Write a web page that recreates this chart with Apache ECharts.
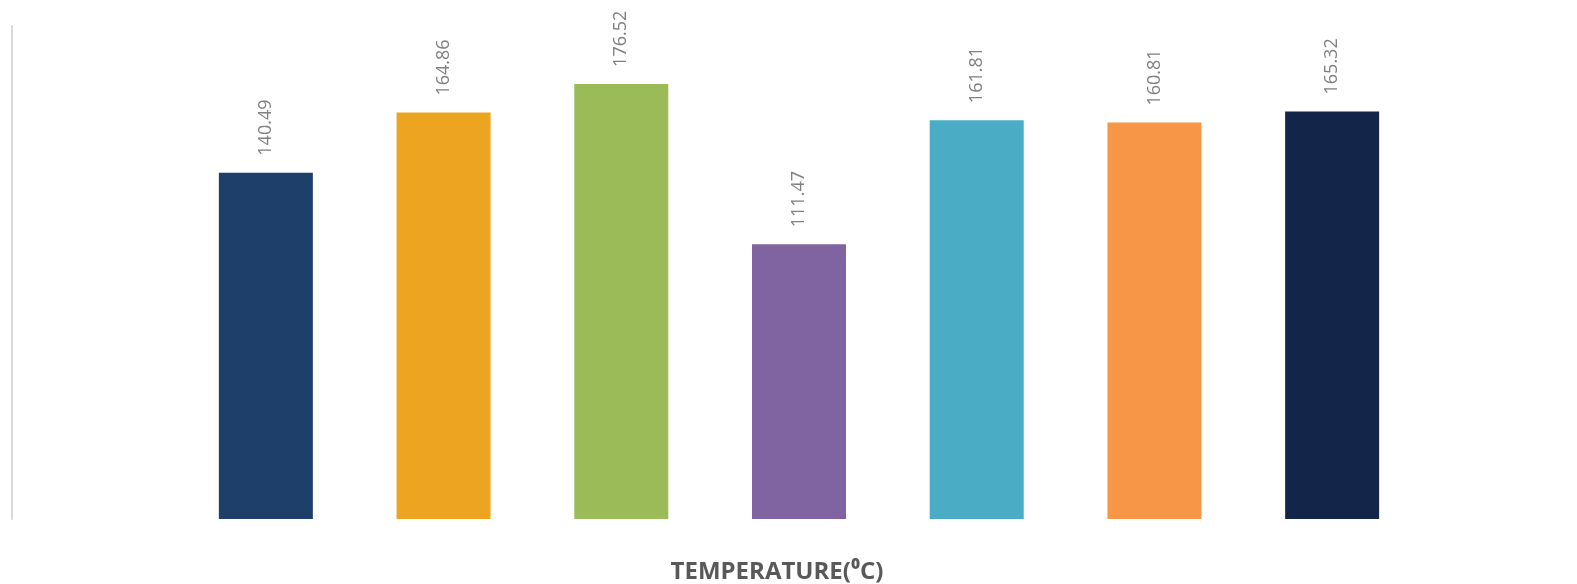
<!DOCTYPE html>
<html>
<head>
<meta charset="utf-8">
<script src="https://cdn.jsdelivr.net/npm/echarts@6/dist/echarts.min.js"></script>
<style>
  html, body { margin: 0; padding: 0; background: #ffffff; }
  #chart { width: 1577px; height: 584px; }
</style>
</head>
<body>
<div id="chart"></div>
<script>
// Samples along the temperature axis (labels not shown on the axis)
const categories = ['A', 'B', 'C', 'D', 'E', 'F', 'G'];
const values = [140.49, 164.86, 176.52, 111.47, 161.81, 160.81, 165.32];
const barColors = ['#1f3f6b', '#eda421', '#9bbb59', '#8064a2', '#4bacc6', '#f79646', '#13264a'];
const axisTitle = 'TEMPERATURE(\u2070C)';

const chart = echarts.init(document.getElementById('chart'), null, { renderer: 'canvas' });

chart.setOption({
  animation: false,
  backgroundColor: '#ffffff',
  grid: { left: 177, right: 156, top: 26, bottom: 65, containLabel: false },
  xAxis: {
    type: 'category',
    data: categories,
    axisLine: { show: false },
    axisTick: { show: false },
    axisLabel: { show: false },
    splitLine: { show: false }
  },
  yAxis: {
    type: 'value',
    min: 0,
    max: 200,
    offset: 165,
    axisLine: { show: true, lineStyle: { color: '#d9d9d9', width: 2 } },
    axisTick: { show: false },
    axisLabel: { show: false },
    splitLine: { show: false }
  },
  series: [{
    type: 'bar',
    barWidth: 94,
    data: values.map((v, i) => ({ value: v, itemStyle: { color: barColors[i] } })),
    label: {
      show: true,
      position: 'top',
      rotate: 90,
      align: 'left',
      verticalAlign: 'middle',
      distance: 17,
      color: '#808080',
      fontFamily: 'Open Sans',
      fontSize: 18,
      formatter: p => p.value.toFixed(2)
    }
  }],
  graphic: [{
    type: 'text',
    x: 777,
    y: 560,
    style: {
      text: axisTitle,
      fill: '#595959',
      font: 'bold 24px "Open Sans"',
      textAlign: 'center',
      textVerticalAlign: 'top'
    }
  }]
});
</script>
</body>
</html>
